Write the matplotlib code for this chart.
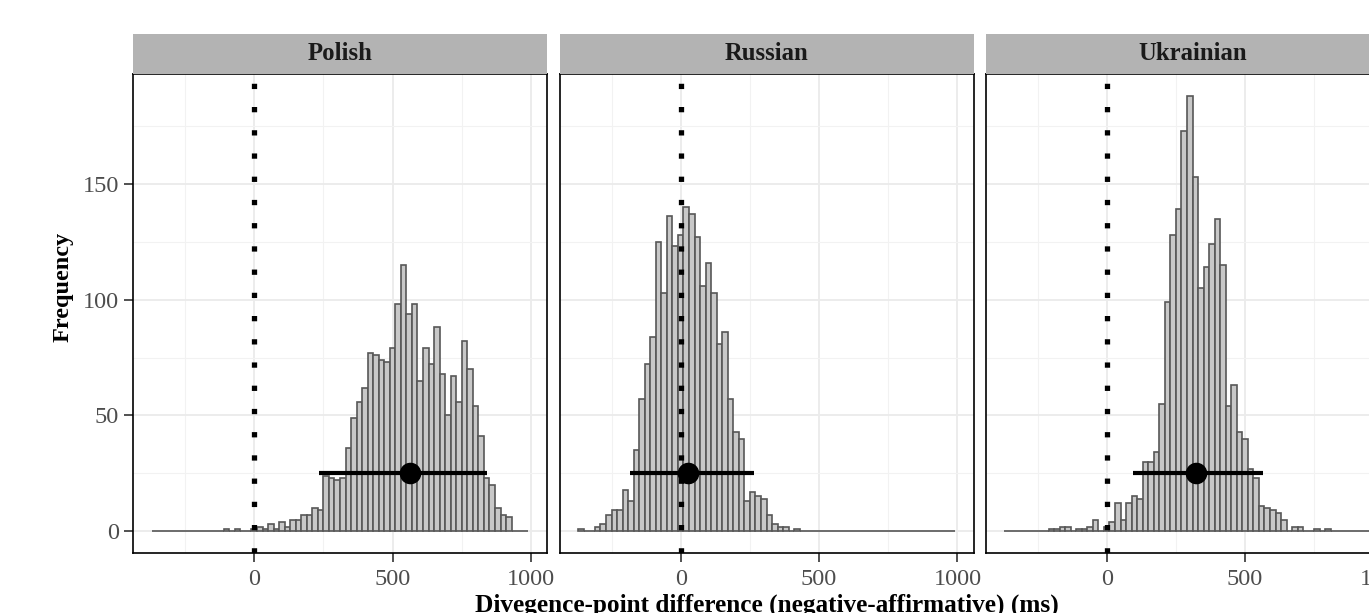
import matplotlib
matplotlib.use('Agg')
import matplotlib.pyplot as plt
import numpy as np

plt.rcParams['font.family'] = ['Liberation Serif', 'DejaVu Serif']

# ---------------- data ----------------
languages = ['Polish', 'Russian', 'Ukrainian']
bin_width = 20
first_bin_center = -360  # bins: -360, -340, ..., 980

polish_counts = ([0] * 13 +
                 [1, 0, 1, 0, 0, 1, 2, 1, 3, 1, 4, 2, 5, 5, 7, 7, 10, 9,
                  24, 23, 22, 23, 36, 49, 56, 62, 77, 76, 74, 73, 79, 98, 115, 94,
                  98, 65, 79, 72, 88, 68, 50, 67, 56, 82, 70, 54, 41, 23, 20, 10, 7, 6] +
                 [0] * 3)
russian_counts = ([1, 0, 0, 2, 3, 7, 9, 9, 18, 13,
                   35, 57, 72, 84, 125, 103, 136, 123, 128, 140,
                   137, 127, 106, 116, 103, 81, 86, 57, 43, 40,
                   13, 17, 15, 14, 7, 3, 2, 2, 0, 1] +
                  [0] * 28)
ukrainian_counts = ([0] * 8 +
                    [1, 1, 2, 2, 0, 1, 1, 2, 5, 0,
                     2,
                     4, 12, 5, 12, 15, 14, 30, 30, 34, 55, 99, 128, 139, 173, 188, 153,
                     105, 114, 124, 135, 115, 54, 63, 43, 40, 27, 23, 11, 10, 9, 8, 5,
                     0, 2, 2, 0, 0, 1, 0, 1] +
                    [0] * 9)
counts = [polish_counts, russian_counts, ukrainian_counts]

means = [562, 28, 324]
lower = [235, -184, 96]
upper = [842, 265, 564]
interval_y = 25

x_ticks = [0, 500, 1000]
x_minor = [-250, 250, 750]
y_ticks = [0, 50, 100, 150]
y_minor = [25, 75, 125, 175]

x_label = 'Divegence-point difference (negative-affirmative) (ms)'
y_label = 'Frequency'

# ---------------- layout ----------------
W, H = 1369, 613
fig = plt.figure(figsize=(W / 100, H / 100), dpi=100)


def px_axes(left, top, width, height):
    return fig.add_axes([left / W, 1 - (top + height) / H, width / W, height / H])


lefts = [133, 559.5, 985.5]
panel_w = 414
panel_top, panel_bottom = 74, 553
strip_top = 34

n_bins = len(polish_counts)
centers = first_bin_center + bin_width * np.arange(n_bins)
lo_edge = centers[0] - bin_width / 2
hi_edge = centers[-1] + bin_width / 2
xpad = 0.05 * (hi_edge - lo_edge)
ymax = max(max(c) for c in counts)
ypad = 0.05 * ymax

for i, lang in enumerate(languages):
    ax = px_axes(lefts[i], panel_top, panel_w, panel_bottom - panel_top)
    ax.set_xlim(lo_edge - xpad, hi_edge + xpad)
    ax.set_ylim(-ypad, ymax + ypad)
    ax.set_xticks(x_ticks)
    ax.set_xticks(x_minor, minor=True)
    ax.set_yticks(y_ticks)
    ax.set_yticks(y_minor, minor=True)
    ax.set_axisbelow(True)
    ax.grid(which='major', color='#ebebeb', lw=1.3)
    ax.grid(which='minor', color='#f2f2f2', lw=0.8)
    ax.tick_params(which='minor', length=0)
    ax.tick_params(which='major', length=6.5, width=1.1, color='#222222',
                   labelsize=17.5, labelcolor='#4d4d4d', pad=3.5)
    ax.tick_params(axis='x', pad=5)
    if i > 0:
        ax.tick_params(axis='y', left=False, labelleft=False)
    for s in ax.spines.values():
        s.set_color('black')
        s.set_linewidth(1.2)

    ax.bar(centers, counts[i], width=bin_width, color='#c8c8c8',
           edgecolor='#575757', linewidth=1.2, zorder=2)
    ax.axvline(0, color='black', lw=3.8, linestyle=(0, (1, 3.4)),
               dash_capstyle='butt', zorder=3)
    ax.plot([lower[i], upper[i]], [interval_y, interval_y], color='black',
            lw=3.0, solid_capstyle='butt', zorder=4)
    ax.plot([means[i]], [interval_y], 'o', color='black', ms=14.5, zorder=5)

    sax = px_axes(lefts[i], strip_top, panel_w, panel_top - strip_top)
    sax.set_facecolor('#b3b3b3')
    sax.set_xticks([])
    sax.set_yticks([])
    for s in sax.spines.values():
        s.set_visible(False)
    sax.text(0.5, 0.5, lang, ha='center', va='center', fontsize=17.8,
             fontweight='bold', color='#1a1a1a', transform=sax.transAxes)

fig.text(63 / W, 1 - 287 / H, y_label, rotation=90, ha='center', va='center',
         fontsize=17.5, fontweight='bold', color='black')
fig.text(767 / W, 1 - 612 / H, x_label, ha='center', va='baseline',
         fontsize=18.2, fontweight='bold', color='black')

fig.savefig('out.png', dpi=100)
